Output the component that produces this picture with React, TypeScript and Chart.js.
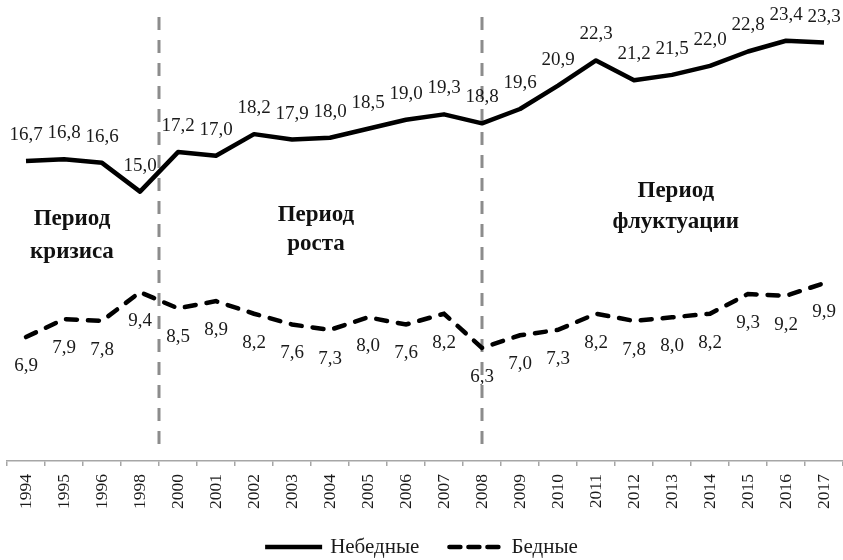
import React, { useEffect, useRef } from "react";
import { Chart, registerables } from "chart.js";

Chart.register(...registerables);

const years = [
  "1994", "1995", "1996", "1998", "2000", "2001", "2002", "2003", "2004", "2005", "2006",
  "2007", "2008", "2009", "2010", "2011", "2012", "2013", "2014", "2015", "2016", "2017",
];
const nonPoor = [
  16.7, 16.8, 16.6, 15.0, 17.2, 17.0, 18.2, 17.9, 18.0, 18.5, 19.0,
  19.3, 18.8, 19.6, 20.9, 22.3, 21.2, 21.5, 22.0, 22.8, 23.4, 23.3,
];
const poor = [
  6.9, 7.9, 7.8, 9.4, 8.5, 8.9, 8.2, 7.6, 7.3, 8.0, 7.6,
  8.2, 6.3, 7.0, 7.3, 8.2, 7.8, 8.0, 8.2, 9.3, 9.2, 9.9,
];
const seriesNames = ["Небедные", "Бедные"];
const periodTexts = [
  ["Период", "кризиса"],
  ["Период", "роста"],
  ["Период", "флуктуации"],
];
const periodIndex = [1.21, 7.63, 17.1];
const periodValues = [
  [13.14, 11.3],
  [13.36, 11.75],
  [14.7, 12.97],
];
const dividerIndex = [3.5, 12];

const SERIF = "'Liberation Serif', 'Times New Roman', serif";
const fmt = (v: number) => v.toFixed(1).replace(".", ",");

const overlayPlugin = {
  id: "overlay",
  beforeDatasetsDraw(chart: any) {
    const { ctx, chartArea, scales } = chart;
    const x = scales.x;
    ctx.save();
    ctx.strokeStyle = "#8c8c8c";
    ctx.lineWidth = 3;
    ctx.setLineDash([13, 10]);
    dividerIndex.forEach((v) => {
      const px = x.getPixelForValue(v);
      ctx.beginPath();
      ctx.moveTo(px, chartArea.top + 5);
      ctx.lineTo(px, chartArea.bottom - 10);
      ctx.stroke();
    });
    ctx.restore();
  },
  afterDatasetsDraw(chart: any) {
    const { ctx, scales } = chart;
    const x = scales.x;
    const y = scales.y;
    ctx.save();
    ctx.fillStyle = "#1a1a1a";
    ctx.font = `19px ${SERIF}`;
    ctx.textAlign = "center";
    ctx.textBaseline = "middle";
    nonPoor.forEach((v, i) => {
      ctx.fillText(fmt(v), x.getPixelForValue(i), y.getPixelForValue(v) - 26);
    });
    poor.forEach((v, i) => {
      ctx.fillText(fmt(v), x.getPixelForValue(i), y.getPixelForValue(v) + 29);
    });
    // period annotations
    ctx.fillStyle = "#111";
    ctx.font = `bold 23px ${SERIF}`;
    ctx.textBaseline = "alphabetic";
    periodTexts.forEach((lines, k) => {
      lines.forEach((t, j) => {
        ctx.fillText(t, x.getPixelForValue(periodIndex[k]), y.getPixelForValue(periodValues[k][j]));
      });
    });
    // legend
    const W = chart.width;
    const ly = 547;
    const lineLen = 57;
    const gapText = 8;
    const gapItem = 27;
    ctx.font = `21px ${SERIF}`;
    const w0 = ctx.measureText(seriesNames[0]).width;
    const w1 = ctx.measureText(seriesNames[1]).width;
    const total = lineLen + gapText + w0 + gapItem + lineLen + gapText + w1;
    let cx = W / 2 - total / 2;
    ctx.strokeStyle = "#000";
    ctx.lineWidth = 4.5;
    ctx.lineCap = "butt";
    ctx.setLineDash([]);
    ctx.beginPath();
    ctx.moveTo(cx, ly);
    ctx.lineTo(cx + lineLen, ly);
    ctx.stroke();
    ctx.textAlign = "left";
    ctx.textBaseline = "middle";
    ctx.fillStyle = "#1a1a1a";
    ctx.fillText(seriesNames[0], cx + lineLen + gapText, ly);
    cx += lineLen + gapText + w0 + gapItem;
    ctx.lineCap = "round";
    ctx.setLineDash([11, 8]);
    ctx.beginPath();
    ctx.moveTo(cx + 3, ly);
    ctx.lineTo(cx + lineLen - 3, ly);
    ctx.stroke();
    ctx.setLineDash([]);
    ctx.fillText(seriesNames[1], cx + lineLen + gapText, ly);
    ctx.restore();
  },
};

export default function App() {
  const ref = useRef<HTMLCanvasElement | null>(null);
  useEffect(() => {
    if (!ref.current) return;
    const chart = new Chart(ref.current, {
      type: "line",
      data: {
        labels: years,
        datasets: [
          {
            label: seriesNames[0],
            data: nonPoor,
            borderColor: "#000",
            borderWidth: 4.5,
            pointRadius: 0,
            tension: 0,
            borderJoinStyle: "round",
          },
          {
            label: seriesNames[1],
            data: poor,
            borderColor: "#000",
            borderWidth: 4.5,
            borderDash: [11, 11],
            borderCapStyle: "round",
            pointRadius: 0,
            tension: 0,
          },
        ],
      },
      options: {
        responsive: false,
        animation: false,
        devicePixelRatio: 1,
        layout: { autoPadding: false, padding: { left: 7, right: 0, top: 12, bottom: 0 } },
        plugins: {
          legend: { display: false },
          tooltip: { enabled: false },
        },
        scales: {
          x: {
            offset: true,
            grid: {
              offset: true,
              drawOnChartArea: false,
              drawTicks: true,
              tickLength: 5,
              color: "#a6a6a6",
              lineWidth: 1.5,
            },
            border: { display: true, color: "#a6a6a6", width: 1.5 },
            ticks: {
              minRotation: 90,
              maxRotation: 90,
              autoSkip: false,
              padding: 8,
              color: "#1a1a1a",
              font: { family: SERIF, size: 17.5 },
            },
            afterFit: (axis: any) => {
              axis.height = 99;
              axis.paddingLeft = 0;
              axis.paddingRight = 0;
            },
          },
          y: {
            display: false,
            min: 0,
            max: 25,
          },
        },
      },
      plugins: [overlayPlugin],
    });
    return () => chart.destroy();
  }, []);
  return (
    <div style={{ position: "absolute", left: 0, top: 0, width: 843, height: 560, background: "#fff" }}>
      <canvas ref={ref} width={843} height={560} style={{ width: 843, height: 560 }} />
    </div>
  );
}
